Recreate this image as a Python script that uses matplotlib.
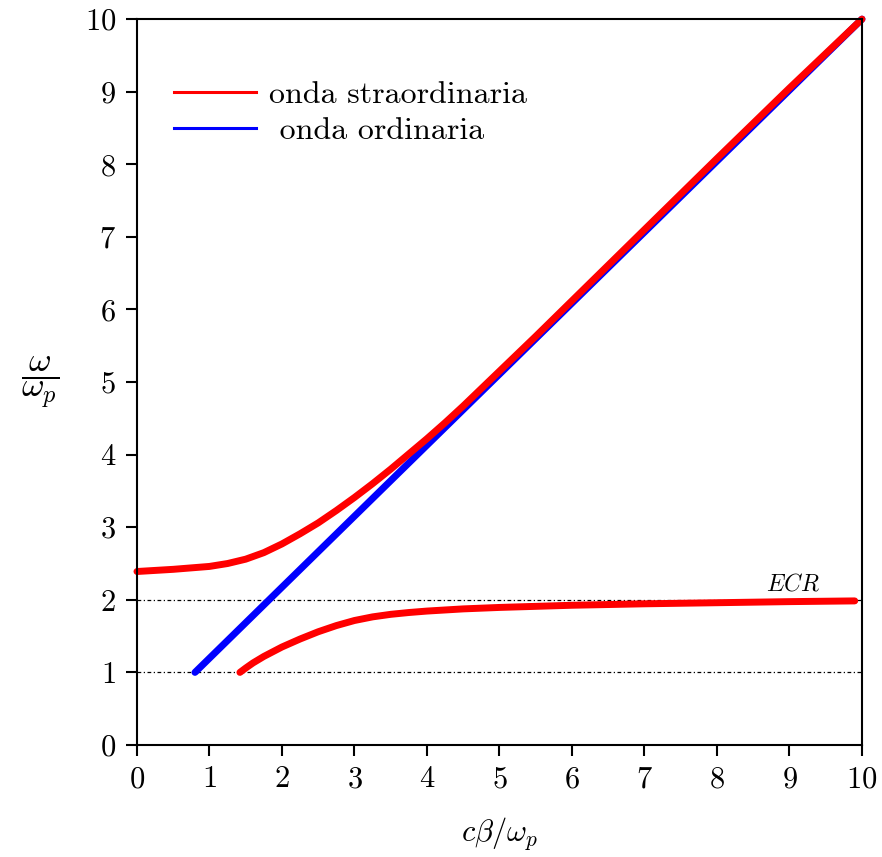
import matplotlib
matplotlib.use("Agg")
import matplotlib.pyplot as plt
from matplotlib.lines import Line2D

plt.rcParams['font.family'] = 'serif'
plt.rcParams['font.serif'] = ['cmr10']
plt.rcParams['mathtext.fontset'] = 'cm'
plt.rcParams['axes.formatter.use_mathtext'] = True

# onda straordinaria, ramo superiore
x_upper = [0.0, 0.5, 1.0, 1.25, 1.5, 1.75, 2.0, 2.25, 2.5, 2.75, 3.0, 3.25, 3.5,
           3.75, 4.0, 4.25, 4.5, 4.75, 5.0, 5.5, 6.0, 6.5, 7.0, 8.0, 9.0, 10.0]
y_upper = [2.39, 2.42, 2.46, 2.50, 2.56, 2.65, 2.77, 2.91, 3.06, 3.23, 3.41, 3.60, 3.80,
           4.01, 4.22, 4.44, 4.67, 4.91, 5.15, 5.63, 6.12, 6.61, 7.10, 8.08, 9.05, 10.0]

# onda straordinaria, ramo inferiore
x_lower = [1.42, 1.5, 1.6, 1.75, 2.0, 2.25, 2.5, 2.75, 3.0, 3.25, 3.5, 3.75, 4.0,
           4.5, 5.0, 6.0, 7.0, 8.0, 9.0, 9.9]
y_lower = [1.00, 1.06, 1.13, 1.22, 1.35, 1.46, 1.56, 1.645, 1.715, 1.765, 1.80, 1.825, 1.845,
           1.875, 1.895, 1.925, 1.945, 1.96, 1.975, 1.985]

# onda ordinaria
x_ord = [0.8, 10.0]
y_ord = [1.0, 10.0]

fig = plt.figure(figsize=(8.82, 8.57), dpi=100)
ax = fig.add_axes([0.1553, 0.1307, 0.822, 0.847])

ax.plot([0, 10], [1, 1], color='black', lw=0.9, ls='-.', dashes=(3, 2, 1, 2))
ax.plot([0, 10], [2, 2], color='black', lw=0.9, ls='-.', dashes=(3, 2, 1, 2))

ax.plot(x_ord, y_ord, color='blue', lw=5, solid_capstyle='round', clip_on=False)
ax.plot(x_upper, y_upper, color='red', lw=5, solid_capstyle='round',
        solid_joinstyle='round', clip_on=False)
ax.plot(x_lower, y_lower, color='red', lw=5, solid_capstyle='round',
        solid_joinstyle='round', clip_on=False)

ax.text(9.05, 2.06, r'$ECR$', fontsize=17, ha='center', va='bottom')

ax.set_xlim(0, 10)
ax.set_ylim(0, 10)
ax.set_xticks(range(0, 11))
ax.set_yticks(range(0, 11))
ax.tick_params(direction='out', length=8, width=1.5, labelsize=22, pad=7)
for s in ax.spines.values():
    s.set_linewidth(1.5)

ax.set_xlabel(r'$c\beta/\omega_p$', fontsize=22, labelpad=16)
ax.set_ylabel(r'$\dfrac{\omega}{\omega_p}$', fontsize=25, rotation=0, labelpad=32, va='center')

handles = [Line2D([], [], color='red', lw=2.2), Line2D([], [], color='blue', lw=2.2)]
ax.legend(handles, ['onda straordinaria', ' onda ordinaria'], loc='upper left',
          bbox_to_anchor=(0.012, 0.955), frameon=False, fontsize=23, handlelength=2.55,
          handletextpad=0.4, labelspacing=0.25)

fig.savefig('out.png', dpi=100)
